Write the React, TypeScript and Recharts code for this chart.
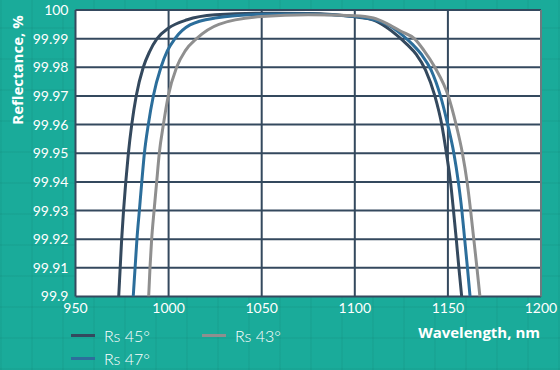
import React from "react";
import { LineChart, Line, XAxis, YAxis, CartesianGrid, Legend, ReferenceLine } from "recharts";

// wavelength (nm) / reflectance (%)
const rs45Wl = [973.2, 974.0, 974.8, 975.8, 977.0, 978.4, 980.2, 982.6, 986.4, 989.8, 993.8, 1000, 1010, 1025, 1050, 1075, 1100, 1110, 1117, 1123, 1128, 1133, 1138, 1143, 1146.7, 1149.2, 1151.4, 1153, 1154.5, 1155.9, 1157.4];
const rs45R = [99.9, 99.91, 99.92, 99.93, 99.94, 99.95, 99.96, 99.97, 99.98, 99.9855, 99.99, 99.9937, 99.9966, 99.9983, 99.9989, 99.9988, 99.9976, 99.9965, 99.994, 99.991, 99.988, 99.9845, 99.979, 99.97, 99.96, 99.95, 99.94, 99.93, 99.92, 99.91, 99.9];

const rs47Wl = [981.0, 982.0, 983.0, 984.3, 985.6, 987.0, 989.1, 991.8, 995.9, 999.3, 1003.4, 1011.5, 1025, 1050, 1075, 1100, 1112, 1120, 1126, 1131, 1136, 1141, 1146, 1149.9, 1153.2, 1155.6, 1157.5, 1159.0, 1160.5, 1161.9];
const rs47R = [99.9, 99.91, 99.92, 99.93, 99.94, 99.95, 99.96, 99.97, 99.98, 99.9857, 99.99, 99.9948, 99.9972, 99.9985, 99.9986, 99.9977, 99.9963, 99.994, 99.991, 99.988, 99.9843, 99.979, 99.97, 99.96, 99.95, 99.94, 99.93, 99.92, 99.91, 99.9];

const rs43Wl = [989.3, 990.0, 990.9, 992.2, 993.6, 995.0, 997.2, 999.8, 1004.3, 1009.0, 1015, 1027, 1050, 1075, 1100, 1110, 1118, 1125, 1132, 1137, 1143, 1150.2, 1154.4, 1157.8, 1160.3, 1162.2, 1163.9, 1165.6, 1167.2];
const rs43R = [99.9, 99.91, 99.92, 99.93, 99.94, 99.95, 99.96, 99.97, 99.98, 99.9858, 99.99, 99.995, 99.9977, 99.9983, 99.998, 99.9972, 99.995, 99.9925, 99.99, 99.986, 99.98, 99.97, 99.96, 99.95, 99.94, 99.93, 99.92, 99.91, 99.9];

const xTicks = [950, 1000, 1050, 1100, 1150, 1200];
const yTicks = [99.9, 99.91, 99.92, 99.93, 99.94, 99.95, 99.96, 99.97, 99.98, 99.99, 100];
const legendOrder = ["Rs 45°", "Rs 43°", "Rs 47°"];

const toRows = (wl: number[], r: number[]) => wl.map((w, i) => ({ wl: w, r: r[i] }));

const series = [
  { name: "Rs 45°", color: "#34495e", data: toRows(rs45Wl, rs45R) },
  { name: "Rs 47°", color: "#2c6e9b", data: toRows(rs47Wl, rs47R) },
  { name: "Rs 43°", color: "#8f8f8f", data: toRows(rs43Wl, rs43R) },
];

const FONT = "Lato, 'Open Sans', sans-serif";
const TITLE_FONT = "'Open Sans', sans-serif";
const bg = {
  backgroundColor: "#1aab9a",
  backgroundImage:
    "repeating-linear-gradient(0deg, rgba(0,60,50,0.05) 0 2px, transparent 2px 31px), repeating-linear-gradient(90deg, rgba(0,60,50,0.05) 0 2px, transparent 2px 31px)",
};

function LegendBox({ payload }: any) {
  const items = [...(payload || [])].sort(
    (a: any, b: any) => legendOrder.indexOf(a.value) - legendOrder.indexOf(b.value)
  );
  return (
    <div style={{ display: "grid", gridTemplateColumns: "131px 131px", fontFamily: FONT }}>
      {items.map((p: any) => (
        <div key={p.value} style={{ display: "flex", alignItems: "center", height: 23 }}>
          <span style={{ width: 24, height: 3, background: p.color, display: "inline-block" }} />
          <span style={{ marginLeft: 9, color: "#fff", fontSize: 16, fontWeight: 300 }}>{p.value}</span>
        </div>
      ))}
    </div>
  );
}

export default function App() {
  return (
    <div style={{ width: 560, height: 370, ...bg, position: "relative" }}>
      <style>{`body{margin:0}`}</style>
      <LineChart width={560} height={370} margin={{ top: 10, right: 19, bottom: 0, left: 0 }}>
        <CartesianGrid fill="#fff" fillOpacity={1} stroke="#34495e" strokeWidth={2} />
        <XAxis
          type="number"
          dataKey="wl"
          domain={[950, 1200]}
          ticks={xTicks}
          allowDataOverflow
          height={73.5}
          axisLine={false}
          tickLine={false}
          tickSize={0}
          tickMargin={7}
          tick={{ fill: "#fff", fontSize: 14, fontFamily: FONT }}
          label={({ viewBox }: any) => (
            <text
              x={540}
              y={332}
              textAnchor="end"
              dominantBaseline="central"
              fill="#fff"
              fontSize={15}
              fontWeight={700}
              fontFamily={TITLE_FONT}
            >
              Wavelength, nm
            </text>
          )}
        />
        <YAxis
          type="number"
          dataKey="r"
          domain={[99.9, 100]}
          ticks={yTicks}
          allowDataOverflow
          width={75.5}
          axisLine={false}
          tickLine={false}
          tickSize={0}
          tickMargin={7}
          tickFormatter={(v: number) => String(v)}
          tick={{ fill: "#fff", fontSize: 14, fontFamily: FONT }}
          label={() => (
            <text
              x={17}
              y={70}
              transform="rotate(-90, 17, 70)"
              textAnchor="middle"
              dominantBaseline="central"
              fill="#fff"
              fontSize={15}
              fontWeight={700}
              fontFamily={TITLE_FONT}
            >
              Reflectance, %
            </text>
          )}
        />
        <ReferenceLine x={1200} stroke="#7f8c8d" strokeWidth={1.5} />
        {series.map((s) => (
          <Line
            key={s.name}
            data={s.data}
            dataKey="r"
            name={s.name}
            type="monotone"
            stroke={s.color}
            strokeWidth={3}
            dot={false}
            isAnimationActive={false}
          />
        ))}
        <Legend
          layout="vertical"
          align="center"
          verticalAlign="middle"
          content={<LegendBox />}
          wrapperStyle={{ position: "absolute", left: 71, top: 324, width: 300 }}
        />
      </LineChart>
    </div>
  );
}
